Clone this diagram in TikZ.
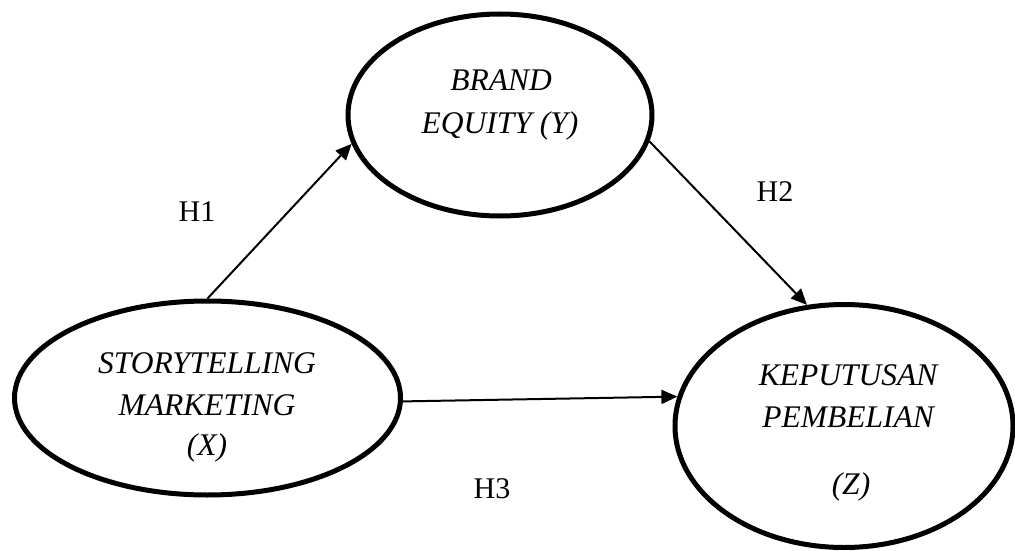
\documentclass[tikz,border=0pt]{standalone}
\usepackage{fontspec}
\setmainfont{Liberation Serif}
\usetikzlibrary{shapes.geometric,arrows.meta}
\begin{document}
\begin{tikzpicture}[x=1pt,y=-1pt,
  var/.style={draw, ellipse, line width=5pt, inner sep=0pt},
  lbl/.style={font=\fontsize{31.5}{42}\selectfont\itshape, anchor=base, inner sep=0pt},
  hyp/.style={font=\fontsize{30}{36}\selectfont, anchor=base, inner sep=0pt},
  conn/.style={line width=2pt, -{Triangle[length=16pt,width=14pt]}}]
\useasboundingbox (0,0) rectangle (1015,551);
\node[var, minimum width=386pt, minimum height=194pt] (sm) at (207.5,398) {};
\node[var, minimum width=304pt, minimum height=202pt] (be) at (500,115) {};
\node[var, minimum width=338pt, minimum height=243pt] (kp) at (844,426) {};
\node[lbl] (t1) at (501,91) {BRAND};
\node[lbl] (t2) at (500,133) {EQUITY (Y)};
\node[lbl] (t3) at (207,373) {STORYTELLING};
\node[lbl] (t4) at (207,415) {MARKETING};
\node[lbl] (t5) at (207,455) {(X)};
\node[lbl] (t6) at (848,385) {KEPUTUSAN};
\node[lbl] (t7) at (848,427) {PEMBELIAN};
\node[lbl] (t8) at (851,494) {(Z)};
\node[hyp] (h1) at (197,221) {H1};
\node[hyp] (h2) at (775,201) {H2};
\node[hyp] (h3) at (492,498) {H3};
\draw[conn] (sm.north) -- (be.191);
\draw[conn] (be.-10) -- (kp.107);
\draw[conn] (sm.-1) -- (kp.170);
\end{tikzpicture}
\end{document}
